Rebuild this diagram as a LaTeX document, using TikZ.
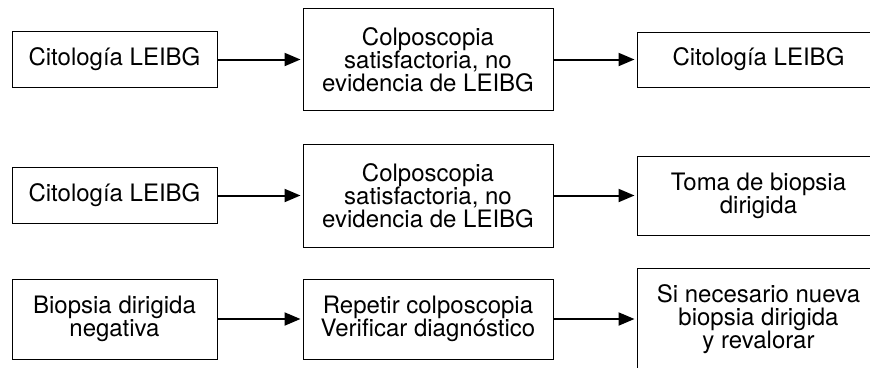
\documentclass[tikz,border=0pt]{standalone}
\usepackage{fontspec}
\setmainfont{TeX Gyre Heros}
\usetikzlibrary{arrows.meta}
\begin{document}
\begin{tikzpicture}[x=1pt,y=-1pt,
  box/.style={draw, line width=1pt, rectangle, align=center, inner sep=0pt,
    font=\fontsize{24}{23}\selectfont},
  arr/.style={line width=2pt, -{Triangle[length=16pt,width=13pt]}, shorten >=2pt}]
\useasboundingbox (0,0) rectangle (870,367);
\clip (0,0) rectangle (870,367);
% row 1
\node[box, minimum width=205pt, minimum height=56pt] (a1) at (114.5,59.5) {Citología LEIBG};
\node[box, minimum width=250pt, minimum height=102pt] (a2) at (428,59.5) {Colposcopia\\satisfactoria, no\\evidencia de LEIBG};
\node[box, minimum width=243pt, minimum height=55pt] (a3) at (758.5,59.5) {Citología LEIBG};
% row 2
\node[box, minimum width=205pt, minimum height=56pt] (b1) at (114.5,195.5) {Citología LEIBG};
\node[box, minimum width=250pt, minimum height=103pt] (b2) at (428,195.5) {Colposcopia\\satisfactoria, no\\evidencia de LEIBG};
\node[box, minimum width=243pt, minimum height=79pt] (b3) at (758.5,195.5) {Toma de biopsia\\dirigida};
% row 3
\node[box, minimum width=205pt, minimum height=80pt] (c1) at (114.5,319) {Biopsia dirigida\\negativa};
\node[box, minimum width=250pt, minimum height=80pt] (c2) at (428,319) {Repetir colposcopia\\Verificar diagnóstico};
\node[box, minimum width=243pt, minimum height=102pt] (c3) at (758.5,319) {Si necesario nueva\\biopsia dirigida\\y revalorar};
% arrows
\draw[arr] (a1.east) -- (a1.east -| a2.west);
\draw[arr] (a2.east) -- (a2.east -| a3.west);
\draw[arr] (b1.east) -- (b1.east -| b2.west);
\draw[arr] (b2.east) -- (b2.east -| b3.west);
\draw[arr] (c1.east) -- (c1.east -| c2.west);
\draw[arr] (c2.east) -- (c2.east -| c3.west);
\end{tikzpicture}
\end{document}
